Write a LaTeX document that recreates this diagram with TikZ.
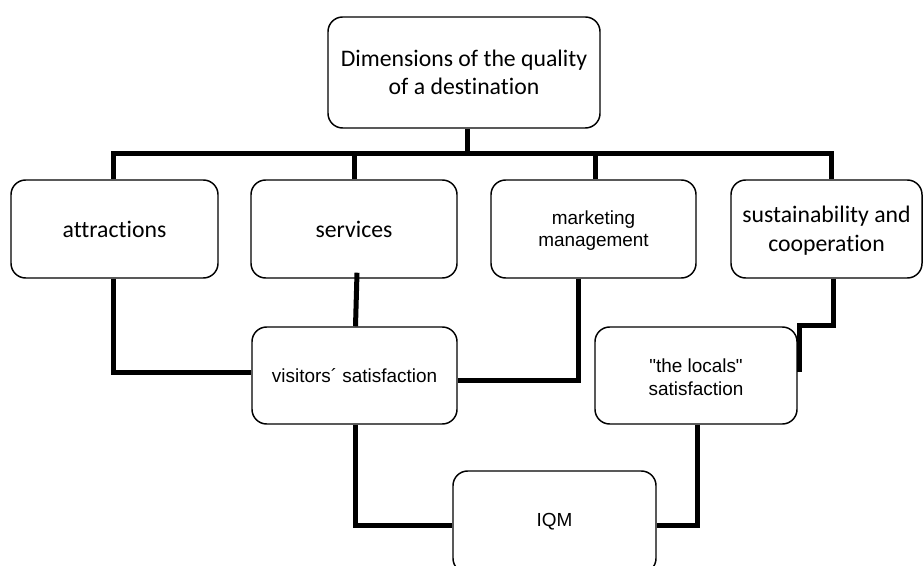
\documentclass[tikz,border=0pt]{standalone}
\usepackage{fontspec}
\setmainfont{Carlito}[RawFeature=-liga]
\newfontfamily\arialf{Liberation Sans}
\begin{document}
\begin{tikzpicture}[x=0.75pt,y=-0.75pt,
  box/.style={draw=black,line width=1.1pt,rounded corners=11pt,fill=white,
    rectangle,inner sep=0pt,align=center},
  calib/.style={font=\fontsize{17.8}{21.5}\selectfont},
  arialtxt/.style={font=\arialf\fontsize{14.2}{16.8}\selectfont},
  conn/.style={line width=3.75pt,line join=miter}]
\useasboundingbox (0,0) rectangle (923,566);
\clip (0,0) rectangle (923,566);
\fill[white] (0,0) rectangle (923,566);
% nodes
\node[box,calib,minimum width=272*0.75pt,minimum height=111*0.75pt] (top) at (464,72.5) {Dimensions of the quality\\of a destination};
\node[box,calib,minimum width=207*0.75pt,minimum height=98*0.75pt] (attr) at (114.5,229) {attractions};
\node[box,calib,minimum width=206*0.75pt,minimum height=98*0.75pt] (serv) at (354,229) {services};
\node[box,arialtxt,minimum width=205*0.75pt,minimum height=98*0.75pt] (mkt) at (593.5,229) {\rule{0pt}{13pt}marketing\\management};
\node[box,calib,minimum width=191*0.75pt,minimum height=98*0.75pt] (sust) at (826.5,229) {\rule{0pt}{15pt}sustainability and\\cooperation};
\node[box,arialtxt,minimum width=205*0.75pt,minimum height=97*0.75pt] (vis) at (354.5,375.5) {visitors\textasciiacute\ satisfaction};
\node[box,arialtxt,minimum width=202*0.75pt,minimum height=97*0.75pt] (loc) at (696,375.5) {\rule{0pt}{13pt}"the locals"\\satisfaction};
\node[box,arialtxt,minimum width=203*0.75pt,minimum height=102*0.75pt] (iqm) at (554.5,522) {IQM};
% coordinates
\coordinate (bar) at (467,154);
\coordinate (sbend) at (833,325);
\coordinate (send) at (799,372);
% connectors
\draw[conn] ([xshift=2.25pt]top.south) -- ([xshift=2.25pt]top.south |- bar);
\draw[conn] ([xshift=-1pt]attr.north) |- (bar) -| ([xshift=3.75pt]sust.north);
\draw[conn] (serv.north) -- (serv.north |- bar);
\draw[conn] ([xshift=1.5pt]mkt.north) -- ([xshift=1.5pt]mkt.north |- bar);
\draw[conn] ([xshift=-1pt]attr.south) |- ([yshift=2.6pt]vis.west);
\draw[conn] ([xshift=2.25pt,yshift=4.5pt]serv.south) -- ([xshift=0.75pt]vis.north);
\draw[conn] ([xshift=-10.9pt]mkt.south) |- ([yshift=-4.1pt]vis.east);
\draw[conn] (sust.south -| sbend) -- (sbend) -| (send);
\draw[conn] ([xshift=1pt]vis.south) |- ([yshift=-2.25pt]iqm.west);
\draw[conn] ([xshift=0.75pt]loc.south) |- ([yshift=-2.25pt]iqm.east);
\end{tikzpicture}
\end{document}
